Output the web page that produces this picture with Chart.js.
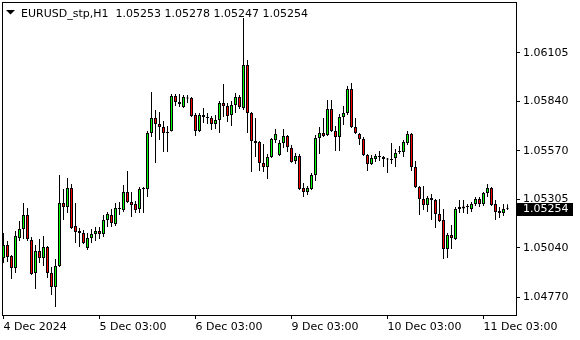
<!DOCTYPE html>
<html>
<head>
<meta charset="utf-8">
<script src="https://cdn.jsdelivr.net/npm/chart.js"></script>
<style>
  html, body { margin: 0; padding: 0; background: #fff; }
  #wrap { width: 580px; height: 340px; }
</style>
</head>
<body>
<div id="wrap"><canvas id="candles" width="580" height="340"></canvas></div>
<script>
const symbolTitle = 'EURUSD_stp,H1';

// EURUSD H1 candles, 4 Dec 2024 00:00 .. 11 Dec 2024 06:00
const opens = [
  1.04984, 1.05055, 1.04995, 1.04930, 1.05093, 1.05143, 1.05219, 1.05083, 1.04902, 1.05022,
  1.04984, 1.05044, 1.04902, 1.04826, 1.04941, 1.05285, 1.05263, 1.05366, 1.05159, 1.05132,
  1.05121, 1.05039, 1.05093, 1.05115, 1.05132, 1.05115, 1.05192, 1.05219, 1.05170, 1.05252,
  1.05246, 1.05345, 1.05290, 1.05279, 1.05252, 1.05361, 1.05361, 1.05667, 1.05749, 1.05716,
  1.05700, 1.05672, 1.05678, 1.05869, 1.05836, 1.05809, 1.05861, 1.05858, 1.05765, 1.05678,
  1.05765, 1.05754, 1.05749, 1.05716, 1.05738, 1.05831, 1.05814, 1.05765, 1.05820, 1.05863,
  1.05803, 1.06038, 1.05776, 1.05623, 1.05618, 1.05503, 1.05481, 1.05536, 1.05629, 1.05547,
  1.05612, 1.05650, 1.05585, 1.05514, 1.05541, 1.05366, 1.05345, 1.05361, 1.05437, 1.05640,
  1.05667, 1.05656, 1.05798, 1.05678, 1.05645, 1.05754, 1.05776, 1.05907, 1.05700, 1.05661,
  1.05634, 1.05547, 1.05498, 1.05525, 1.05536, 1.05536, 1.05525, 1.05519, 1.05530, 1.05563,
  1.05563, 1.05612, 1.05661, 1.05481, 1.05372, 1.05306, 1.05274, 1.05312, 1.05301, 1.05225,
  1.05192, 1.05033, 1.05110, 1.05088, 1.05252, 1.05255, 1.05268, 1.05252, 1.05279, 1.05306,
  1.05279, 1.05339, 1.05366, 1.05279, 1.05241, 1.05230, 1.05253
];
const highs = [
  1.05121, 1.05077, 1.05001, 1.05132, 1.05186, 1.05285, 1.05257, 1.05099, 1.05055, 1.05088,
  1.05104, 1.05050, 1.04935, 1.04979, 1.05437, 1.05361, 1.05421, 1.05388, 1.05285, 1.05148,
  1.05137, 1.05121, 1.05143, 1.05154, 1.05154, 1.05219, 1.05235, 1.05252, 1.05285, 1.05290,
  1.05383, 1.05459, 1.05345, 1.05295, 1.05372, 1.05372, 1.05678, 1.05891, 1.05792, 1.05781,
  1.05732, 1.05705, 1.05880, 1.05880, 1.05880, 1.05874, 1.05874, 1.05863, 1.05776, 1.05776,
  1.05803, 1.05776, 1.05760, 1.05765, 1.05842, 1.05934, 1.05831, 1.05842, 1.05885, 1.05874,
  1.06295, 1.06065, 1.05781, 1.05749, 1.05623, 1.05607, 1.05552, 1.05639, 1.05689, 1.05629,
  1.05689, 1.05656, 1.05601, 1.05558, 1.05552, 1.05394, 1.05377, 1.05448, 1.05656, 1.05700,
  1.05749, 1.05847, 1.05847, 1.05705, 1.05771, 1.05814, 1.05923, 1.05940, 1.05749, 1.05667,
  1.05645, 1.05552, 1.05547, 1.05552, 1.05569, 1.05541, 1.05530, 1.05612, 1.05580, 1.05596,
  1.05629, 1.05678, 1.05667, 1.05514, 1.05377, 1.05377, 1.05323, 1.05334, 1.05306, 1.05306,
  1.05252, 1.05121, 1.05164, 1.05263, 1.05301, 1.05301, 1.05279, 1.05290, 1.05317, 1.05317,
  1.05345, 1.05388, 1.05372, 1.05301, 1.05263, 1.05279, 1.05278
];
const lows = [
  1.04957, 1.04962, 1.04870, 1.04902, 1.05077, 1.05088, 1.05077, 1.04891, 1.04815, 1.04957,
  1.04941, 1.04875, 1.04782, 1.04717, 1.04935, 1.05192, 1.05230, 1.05143, 1.05066, 1.05044,
  1.05061, 1.05028, 1.05066, 1.05077, 1.05088, 1.05099, 1.05154, 1.05154, 1.05159, 1.05219,
  1.05235, 1.05285, 1.05208, 1.05230, 1.05230, 1.05230, 1.05317, 1.05645, 1.05503, 1.05629,
  1.05563, 1.05563, 1.05675, 1.05814, 1.05809, 1.05803, 1.05831, 1.05754, 1.05650, 1.05672,
  1.05721, 1.05716, 1.05683, 1.05689, 1.05667, 1.05754, 1.05727, 1.05705, 1.05776, 1.05798,
  1.05792, 1.05667, 1.05454, 1.05536, 1.05459, 1.05454, 1.05416, 1.05530, 1.05612, 1.05541,
  1.05585, 1.05563, 1.05505, 1.05498, 1.05356, 1.05317, 1.05328, 1.05356, 1.05405, 1.05552,
  1.05645, 1.05650, 1.05672, 1.05569, 1.05569, 1.05711, 1.05765, 1.05694, 1.05661, 1.05601,
  1.05541, 1.05459, 1.05492, 1.05508, 1.05514, 1.05481, 1.05448, 1.05498, 1.05481, 1.05552,
  1.05536, 1.05601, 1.05459, 1.05366, 1.05219, 1.05246, 1.05235, 1.05192, 1.05148, 1.05181,
  1.04979, 1.04984, 1.05033, 1.05083, 1.05230, 1.05230, 1.05225, 1.05235, 1.05268, 1.05263,
  1.05268, 1.05317, 1.05268, 1.05192, 1.05203, 1.05214, 1.05247
];
const closes = [
  1.05055, 1.04990, 1.04930, 1.05104, 1.05143, 1.05219, 1.05088, 1.04897, 1.05022, 1.04984,
  1.05044, 1.04902, 1.04826, 1.04941, 1.05285, 1.05263, 1.05366, 1.05148, 1.05126, 1.05121,
  1.05066, 1.05093, 1.05115, 1.05132, 1.05115, 1.05192, 1.05225, 1.05175, 1.05257, 1.05257,
  1.05345, 1.05290, 1.05274, 1.05246, 1.05361, 1.05363, 1.05667, 1.05749, 1.05716, 1.05700,
  1.05667, 1.05667, 1.05869, 1.05836, 1.05825, 1.05863, 1.05855, 1.05760, 1.05678, 1.05765,
  1.05754, 1.05749, 1.05716, 1.05738, 1.05831, 1.05814, 1.05760, 1.05820, 1.05863, 1.05809,
  1.06038, 1.05776, 1.05623, 1.05612, 1.05503, 1.05481, 1.05536, 1.05634, 1.05661, 1.05612,
  1.05650, 1.05590, 1.05508, 1.05541, 1.05361, 1.05345, 1.05366, 1.05437, 1.05640, 1.05667,
  1.05650, 1.05798, 1.05678, 1.05645, 1.05754, 1.05776, 1.05907, 1.05700, 1.05667, 1.05634,
  1.05547, 1.05498, 1.05530, 1.05541, 1.05541, 1.05525, 1.05522, 1.05525, 1.05558, 1.05566,
  1.05618, 1.05661, 1.05481, 1.05372, 1.05306, 1.05274, 1.05312, 1.05301, 1.05225, 1.05186,
  1.05033, 1.05110, 1.05093, 1.05252, 1.05263, 1.05266, 1.05263, 1.05279, 1.05306, 1.05279,
  1.05339, 1.05366, 1.05274, 1.05235, 1.05230, 1.05252, 1.05254
];

const timeTickBars = [0, 24, 48, 72, 96, 120];
const timeTickLabels = ['4 Dec 2024', '5 Dec 03:00', '6 Dec 03:00', '9 Dec 03:00', '10 Dec 03:00', '11 Dec 03:00'];
const priceTicks = [1.06105, 1.05840, 1.05570, 1.05305, 1.05040, 1.04770];

const priceMax = 1.063766;
const priceMin = 1.046731;
const upColor = '#00ff00';
const downColor = '#ff0000';
const font = { family: 'DejaVu Sans', size: 11 };

const idx = opens.map((_, i) => i);
const last = opens.length - 1;

// frame, header line and the last price box (MT4 look)
const mtDecor = {
  id: 'mtDecor',
  beforeDatasetsDraw(chart) {
    const { ctx, chartArea: a } = chart;
    ctx.save();
    ctx.strokeStyle = '#000';
    ctx.lineWidth = 1;
    ctx.strokeRect(a.left - 0.5, a.top - 0.5, a.right - a.left + 1, a.bottom - a.top + 1);
    ctx.restore();
  },
  afterDraw(chart) {
    const { ctx, chartArea: a } = chart;
    const y = chart.scales.y.getPixelForValue(closes[last]);
    ctx.save();
    ctx.fillStyle = '#000';
    ctx.fillRect(a.right + 1, Math.round(y) - 6, 56, 13);
    ctx.font = '11px "DejaVu Sans"';
    ctx.textBaseline = 'middle';
    ctx.fillStyle = '#fff';
    ctx.fillText(closes[last].toFixed(5), a.right + 7, Math.round(y) + 0.5);

    ctx.fillStyle = '#000';
    ctx.beginPath();
    ctx.moveTo(6, 10);
    ctx.lineTo(15, 10);
    ctx.lineTo(10.5, 14.5);
    ctx.closePath();
    ctx.fill();
    ctx.textBaseline = 'alphabetic';
    const ohlc = [opens[last], highs[last], lows[last], closes[last]].map(v => v.toFixed(5)).join(' ');
    ctx.fillText(symbolTitle + '  ' + ohlc, 21, 17);
    ctx.restore();
  }
};

const tickGrid = { drawOnChartArea: false, drawTicks: true, tickLength: 4, color: '#000', offset: false };

new Chart(document.getElementById('candles'), {
  type: 'bar',
  data: {
    datasets: [
      {
        label: 'body',
        data: idx.map(i => ({ x: i, y: [opens[i], closes[i]] })),
        backgroundColor: idx.map(i => closes[i] >= opens[i] ? upColor : downColor),
        borderColor: '#000',
        borderWidth: 1,
        borderSkipped: false,
        barThickness: 3,
        maxBarThickness: 3,
        minBarLength: 1,
        order: 0
      },
      {
        label: 'wick',
        data: idx.map(i => ({ x: i, y: [lows[i], highs[i]] })),
        backgroundColor: '#000',
        borderWidth: 0,
        barThickness: 1,
        maxBarThickness: 1,
        order: 1
      }
    ]
  },
  options: {
    responsive: false,
    animation: false,
    events: [],
    devicePixelRatio: 1,
    layout: { padding: { left: 3, top: 3, right: 0, bottom: 0 } },
    datasets: {
      bar: {
        grouped: false,
        categoryPercentage: 1,
        barPercentage: 1,
        inflateAmount: 0,
        clip: false
      }
    },
    plugins: {
      legend: { display: false },
      tooltip: { enabled: false },
      title: { display: false }
    },
    scales: {
      x: {
        type: 'linear',
        position: 'bottom',
        offset: false,
        min: -0.125,
        max: 128.125,
        bounds: 'data',
        afterBuildTicks: s => { s.ticks = timeTickBars.map(v => ({ value: v })); },
        afterFit: s => { s.height = 25; s.paddingLeft = 0; s.paddingRight = 0; },
        grid: tickGrid,
        border: { display: false },
        ticks: {
          autoSkip: false,
          maxRotation: 0,
          align: 'start',
          padding: 2,
          color: '#000',
          font: font,
          callback: v => timeTickLabels[timeTickBars.indexOf(v)]
        }
      },
      y: {
        type: 'linear',
        position: 'right',
        min: priceMin,
        max: priceMax,
        bounds: 'data',
        afterBuildTicks: s => { s.ticks = priceTicks.map(v => ({ value: v })); },
        afterFit: s => { s.width = 64; s.paddingTop = 0; s.paddingBottom = 0; },
        grid: tickGrid,
        border: { display: false },
        ticks: {
          padding: 3,
          color: '#000',
          font: font,
          callback: v => v.toFixed(5)
        }
      }
    }
  },
  plugins: [mtDecor]
});
</script>
</body>
</html>
